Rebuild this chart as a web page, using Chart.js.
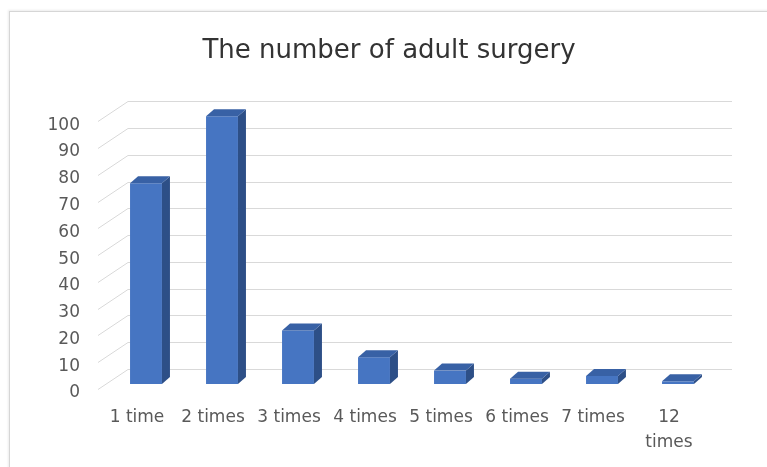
<!DOCTYPE html>
<html lang="en">
<head>
    <meta charset="UTF-8">
    <title>The number of adult surgery</title>
    <script src="https://cdn.jsdelivr.net/npm/chart.js"></script>
    <style>
        body { margin: 0; background: #fff; overflow: hidden; }
        .frame { position: absolute; left: 9px; top: 11px; width: 800px; height: 500px; border-left: 1px solid #d6d6d6; border-top: 1px solid #d6d6d6; box-shadow: -1px -1px 2px rgba(0, 0, 0, 0.08); }
        #chart { position: absolute; left: 0; top: 0; }
    </style>
</head>
<body>
    <div class="frame"></div>
    <canvas id="chart" width="767" height="467"></canvas>

    <script>
        const categories = ['1 time', '2 times', '3 times', '4 times', '5 times', '6 times', '7 times', ['12', 'times']];
        const counts = [75, 100, 20, 10, 5, 2, 3, 1];
        const yMin = 0, yMax = 100, yStep = 10;

        const font = 'DejaVu Sans';
        const labelColor = '#595959';

        // 3D look: side and top faces of each bar, plus the back wall grid
        const barDepth = { dx: 8, dy: 7 };
        const faceColors = { front: '#4675c2', side: '#2d4f87', top: '#3861a5' };

        const wallPlugin = {
            id: 'wall',
            beforeDatasetsDraw(chart) {
                const { ctx, chartArea, scales: { y } } = chart;
                ctx.save();
                ctx.strokeStyle = '#d9d9d9';
                ctx.lineWidth = 1;
                y.ticks.forEach(t => {
                    const py = Math.round(y.getPixelForValue(t.value)) + 0.5;
                    ctx.beginPath();
                    ctx.moveTo(chartArea.left - 10, py + 5);
                    ctx.lineTo(chartArea.left + 20, py - 15);
                    ctx.lineTo(chartArea.right + 16, py - 15);
                    ctx.stroke();
                });
                ctx.restore();
            }
        };

        const boxPlugin = {
            id: 'box3d',
            afterDatasetsDraw(chart) {
                const { ctx } = chart;
                const { dx, dy } = barDepth;
                chart.getDatasetMeta(0).data.forEach(bar => {
                    const { x, y, base, width } = bar.getProps(['x', 'y', 'base', 'width'], true);
                    const l = x - width / 2, r = x + width / 2;
                    ctx.save();
                    // right side
                    ctx.fillStyle = faceColors.side;
                    ctx.beginPath();
                    ctx.moveTo(r, y);
                    ctx.lineTo(r + dx, y - dy);
                    ctx.lineTo(r + dx, base - dy);
                    ctx.lineTo(r, base);
                    ctx.closePath();
                    ctx.fill();
                    // top
                    ctx.fillStyle = faceColors.top;
                    ctx.beginPath();
                    ctx.moveTo(l, y);
                    ctx.lineTo(l + dx, y - dy);
                    ctx.lineTo(r + dx, y - dy);
                    ctx.lineTo(r, y);
                    ctx.closePath();
                    ctx.fill();
                    ctx.restore();
                });
            }
        };

        new Chart(document.getElementById('chart'), {
            type: 'bar',
            data: {
                labels: categories,
                datasets: [{
                    data: counts,
                    backgroundColor: faceColors.front,
                    borderWidth: 0,
                    barPercentage: 0.42,
                    categoryPercentage: 1,
                    clip: false
                }]
            },
            options: {
                responsive: false,
                animation: false,
                layout: { padding: { left: 38, right: 27, top: 36, bottom: 0 } },
                plugins: {
                    legend: { display: false },
                    tooltip: { enabled: false },
                    title: {
                        display: true,
                        text: 'The number of adult surgery',
                        color: '#333',
                        font: { family: font, size: 26, weight: 'normal' },
                        padding: { top: 0, bottom: 49 }
                    }
                },
                scales: {
                    x: {
                        grid: { display: false, drawTicks: false },
                        border: { display: false },
                        ticks: {
                            color: labelColor,
                            font: { family: font, size: 17, lineHeight: 1.47 },
                            padding: 21,
                            labelOffset: -9,
                            maxRotation: 0,
                            autoSkip: false
                        },
                        afterFit(scale) { scale.height = 83; }
                    },
                    y: {
                        min: yMin,
                        max: yMax,
                        grid: { display: false, drawTicks: false },
                        border: { display: false },
                        ticks: {
                            stepSize: yStep,
                            color: labelColor,
                            font: { family: font, size: 17 },
                            padding: 28,
                            labelOffset: 9
                        },
                        afterFit(scale) { scale.width = 70; }
                    },
                    // empty right margin so the title sits over the whole frame
                    spacer: {
                        type: 'linear',
                        position: 'right',
                        grid: { display: false, drawTicks: false },
                        border: { display: false },
                        ticks: { display: false },
                        afterFit(scale) { scale.width = 24; }
                    }
                }
            },
            plugins: [wallPlugin, boxPlugin]
        });
    </script>
</body>
</html>
